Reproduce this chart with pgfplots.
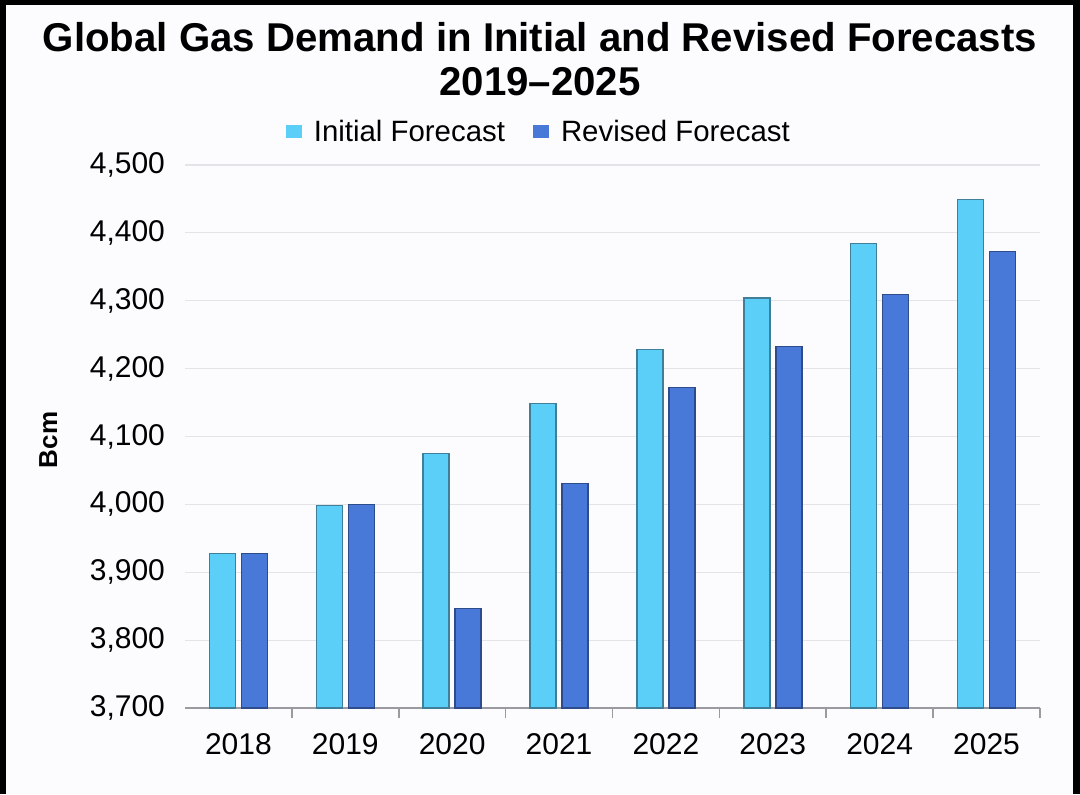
\documentclass[border=0pt]{standalone}
\usepackage{pgfplots}
\pgfplotsset{compat=1.18}
\usepackage{fontspec}
\setmainfont{Liberation Sans}
\definecolor{initfill}{HTML}{5CCFF9}
\definecolor{initedge}{HTML}{3F7F9A}
\definecolor{revfill}{HTML}{4879D8}
\definecolor{revedge}{HTML}{2E4C8C}
\definecolor{gridc}{HTML}{E4E4E8}
\definecolor{axisc}{HTML}{9A9AA0}
\definecolor{bgc}{HTML}{FCFCFE}
\begin{document}
\begin{tikzpicture}[x=1pt,y=1pt]
\useasboundingbox (0,0) rectangle (540,397);
\fill[black] (0,0) rectangle (540,397);
\fill[bgc] (3,0) rectangle (536.5,394.5);
\node[font=\bfseries\fontsize{20.1}{23}\selectfont] at (270,378.5) {Global Gas Demand in Initial and Revised Forecasts};
\node[font=\bfseries\fontsize{20.1}{23}\selectfont] at (270,356) {2019–2025};
\begin{axis}[
  at={(92.5pt,43pt)}, anchor=south west,
  scale only axis, width=427.5pt, height=271.5pt,
  xmin=-0.5, xmax=7.5, ymin=3700, ymax=4500,
  ytick={3700,3800,...,4500},
  xtick={0,...,7},
  xticklabels={2018,2019,2020,2021,2022,2023,2024,2025},
  major tick length=0pt,
  extra x ticks={0.5,1.5,...,7.5},
  extra x tick labels={},
  extra x tick style={major tick length=5pt, tick align=outside, xmajorgrids=false, tick style={axisc, line width=0.8pt}},
  axis x line*=bottom, axis y line*=left,
  x axis line style={axisc, line width=0.8pt, -},
  y axis line style={draw=none},
  ymajorgrids, grid style={gridc, line width=0.6pt},
  /pgf/number format/assume math mode=true,
  /pgf/number format/.cd, 1000 sep={,}, /pgfplots/.cd,
  ticklabel style={font=\fontsize{15}{17}\selectfont},
  yticklabel style={xshift=-6.5pt},
  xticklabel style={yshift=-9pt},
  ylabel={\bfseries Bcm},
  ylabel style={font=\fontsize{13}{15}\selectfont, at={(axis description cs:-0.16,0.4935)}, anchor=center, rotate=0},
  ybar, bar width=13pt,
  legend columns=2,
  legend style={at={(axis description cs:0.415,1.061)}, anchor=center, draw=none, fill=none,
    font=\fontsize{14.7}{16}\selectfont, column sep=4pt, /tikz/every even column/.append style={column sep=12pt}},
  legend image code/.code={\fill[#1, draw=none] (0pt,-3.3pt) rectangle (8pt,3.3pt);},
]
\addplot[bar shift=-8pt, fill=initfill, draw=initedge, line width=0.7pt] coordinates {
(0,3928) (1,3998) (2,4075) (3,4149) (4,4228) (5,4304) (6,4384) (7,4449)};
\addlegendentry{Initial Forecast}
\addplot[bar shift=8pt, fill=revfill, draw=revedge, line width=0.7pt] coordinates {
(0,3928) (1,4000) (2,3847) (3,4031) (4,4172) (5,4233) (6,4309) (7,4373)};
\addlegendentry{Revised Forecast}
\end{axis}
\end{tikzpicture}
\end{document}
